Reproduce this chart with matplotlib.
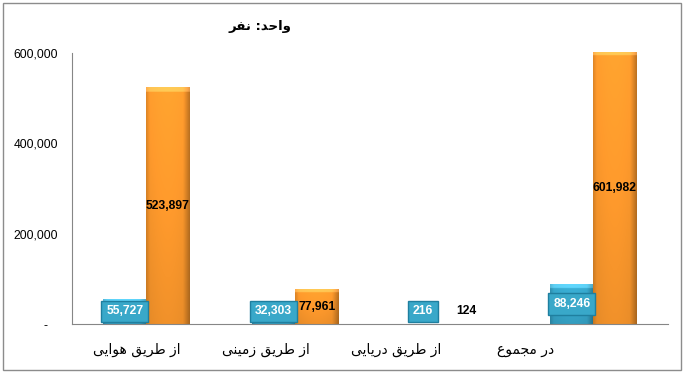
import numpy as np
import matplotlib
matplotlib.use("Agg")
from matplotlib import pyplot as plt
from matplotlib.patches import Rectangle
from matplotlib.colors import to_rgb

# data
categories = ["از طریق هوایی", "از طریق زمینی", "از طریق دریایی", "در مجموع"]
blue_vals = [55727, 32303, 216, 88246]
orange_vals = [523897, 77961, 124, 601982]
y_ticks = [0, 200000, 400000, 600000]
title = "واحد: نفر"

# simple Persian shaping (matplotlib has no complex text layout)
FORMS = {
    "ا": ("\uFE8D", "\uFE8E", None, None),
    "د": ("\uFEA9", "\uFEAA", None, None),
    "ر": ("\uFEAD", "\uFEAE", None, None),
    "ز": ("\uFEAF", "\uFEB0", None, None),
    "و": ("\uFEED", "\uFEEE", None, None),
    "ج": ("\uFE9D", "\uFE9E", "\uFE9F", "\uFEA0"),
    "ح": ("\uFEA1", "\uFEA2", "\uFEA3", "\uFEA4"),
    "ط": ("\uFEC1", "\uFEC2", "\uFEC3", "\uFEC4"),
    "ع": ("\uFEC9", "\uFECA", "\uFECB", "\uFECC"),
    "ف": ("\uFED1", "\uFED2", "\uFED3", "\uFED4"),
    "ق": ("\uFED5", "\uFED6", "\uFED7", "\uFED8"),
    "م": ("\uFEE1", "\uFEE2", "\uFEE3", "\uFEE4"),
    "ن": ("\uFEE5", "\uFEE6", "\uFEE7", "\uFEE8"),
    "ه": ("\uFEE9", "\uFEEA", "\uFEEB", "\uFEEC"),
    "ی": ("\uFEEF", "\uFEF0", "\uFEF3", "\uFEF4"),
}


def dual(c):
    return c in FORMS and FORMS[c][2] is not None


def shape_fa(s):
    out = []
    for i, c in enumerate(s):
        if c not in FORMS:
            out.append(c)
            continue
        prev_j = i > 0 and dual(s[i - 1])
        next_j = dual(c) and i + 1 < len(s) and s[i + 1] in FORMS
        iso, fin, ini, med = FORMS[c]
        if prev_j and next_j:
            out.append(med)
        elif prev_j:
            out.append(fin)
        elif next_j:
            out.append(ini)
        else:
            out.append(iso)
    return "".join(out)[::-1]


def shade_bar(ax, bar, base, px_per_unit):
    x0, y0 = bar.get_xy()
    w, h = bar.get_width(), bar.get_height()
    rgb = np.array(to_rgb(base))
    nx, ny = 40, 200
    hx = np.linspace(0, 1, nx)
    horiz = 1.0 + 0.06 * np.sin(np.pi * hx) - 0.25 * np.clip((hx - 0.85) / 0.15, 0, 1) \
        - 0.12 * np.clip((0.08 - hx) / 0.08, 0, 1)
    vy = np.linspace(0, 1, ny)
    vert = 1.04 - 0.12 * vy
    hpx = max(h * px_per_unit, 1)
    band = vy * hpx < 4
    img = np.clip(rgb[None, None, :] * vert[:, None, None] * horiz[None, :, None], 0, 1)
    img[band] = np.clip(img[band] + 0.15, 0, 1)
    im = ax.imshow(img, extent=[x0, x0 + w, y0, y0 + h], aspect="auto",
                   origin="upper", zorder=2, interpolation="bilinear")
    im.set_clip_path(bar)
    bar.set_facecolor("none")


plt.rcParams["font.family"] = ["Liberation Sans", "DejaVu Sans"]

fig = plt.figure(figsize=(6.85, 3.73), dpi=100)
ax = fig.add_axes([0.105, 0.131, 0.870, 0.727])

x = np.arange(len(categories))
width = 0.29
b_blue = ax.bar(x - width / 2, blue_vals, width, color="#35A1C4", zorder=2, clip_on=False)
b_orange = ax.bar(x + width / 2, orange_vals, width, color="#F7952B", zorder=2, clip_on=False)

ax.set_xlim(-0.5, len(categories) - 0.5)
ax.set_ylim(0, 600000)

px_per_unit = 271 / 600000
for bar in b_blue:
    shade_bar(ax, bar, "#35A1C4", px_per_unit)
for bar in b_orange:
    shade_bar(ax, bar, "#F7952B", px_per_unit)
ax.set_xlim(-0.5, len(categories) - 0.5)
ax.set_ylim(0, 600000)

min_label = 28000
for xi, v in zip(x, blue_vals):
    ax.text(xi - width / 2, max(v / 2, min_label), f"{v:,}", ha="center", va="center",
            color="white", fontsize=8.7, fontweight="bold", zorder=5,
            bbox=dict(boxstyle="square,pad=0.4", fc="#39A8C9", ec="#1F7F9F", lw=1))
for xi, v in zip(x, orange_vals):
    ax.text(xi + width / 2, max(v / 2, min_label), f"{v:,}", ha="center", va="center",
            color="black", fontsize=8.7, fontweight="bold", zorder=5)

ax.set_yticks(y_ticks)
ax.set_yticklabels([f"{t:,}" if t else "-   " for t in y_ticks], fontsize=8.7)
ax.tick_params(axis="y", length=0, pad=10)
ax.set_xticks([])

for i, c in enumerate(categories):
    ax.text(i * 0.87 - 0.065, -0.096, shape_fa(c), transform=ax.get_xaxis_transform(),
            ha="center", va="center", fontsize=10, family="DejaVu Sans")

for s in ["top", "right"]:
    ax.spines[s].set_visible(False)
ax.spines["left"].set_color("#868686")
ax.spines["bottom"].set_color("#868686")
ax.spines["bottom"].set_zorder(3)

fig.text(0.38, 0.928, shape_fa(title), ha="center", va="center", fontsize=9.5,
         fontweight="bold", family="DejaVu Sans")

fig.patches.append(Rectangle((0.004, 0.008), 0.99, 0.984, transform=fig.transFigure,
                             fill=False, ec="#8C8C8C", lw=1))

fig.savefig("out.png", dpi=100)
